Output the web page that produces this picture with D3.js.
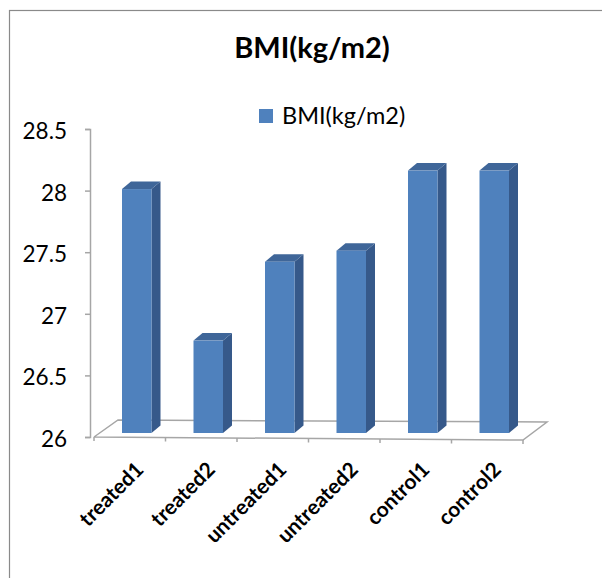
<!DOCTYPE html>
<html>
<head>
<meta charset="utf-8">
<script src="https://cdn.jsdelivr.net/npm/d3@7"></script>
<style>body{margin:0;background:#fff;}</style>
</head>
<body>
<script>
const width = 602;
const height = 578;

// chart data
const categories = ["treated1", "treated2", "untreated1", "untreated2", "control1", "control2"];
const bmiValues = [27.98, 26.75, 27.39, 27.48, 28.13, 28.13];
const yTicks = [26, 26.5, 27, 27.5, 28, 28.5];
const seriesName = "BMI(kg/m2)";
const titleText = "BMI(kg/m2)";

const font = "Lato, 'Open Sans', sans-serif";

const svg = d3.select("body").append("svg")
    .attr("width", width)
    .attr("height", height);

// chart area border
svg.append("rect")
    .attr("x", 9.5).attr("y", 10.5)
    .attr("width", 640).attr("height", 640)
    .attr("fill", "#fff")
    .attr("stroke", "#8a8a8a")
    .attr("stroke-width", 1.2);

const x = d3.scaleBand().domain(categories).range([94, 523]);
const y = d3.scaleLinear().domain([26, 28.5]).range([437, 129]);

const depth = [24, -17];   // floor depth (oblique)
const frontL = [x.range()[0], y(26)];
const frontR = [x.range()[1], y(26) + 3];
const backL = [frontL[0] + depth[0], frontL[1] + depth[1]];
const backR = [frontR[0] + depth[0], frontR[1] + depth[1] - 1];

// floor
svg.append("path")
    .attr("d", d3.line()([frontL, backL, backR, frontR, frontL]))
    .attr("fill", "none")
    .attr("stroke", "#a6a6a6")
    .attr("stroke-width", 1.5);

// category ticks
d3.range(categories.length + 1).forEach(i => {
    const tx = x.range()[0] + i * x.step();
    const ty = frontL[1] + (frontR[1] - frontL[1]) * i / categories.length;
    svg.append("line")
        .attr("x1", tx).attr("x2", tx)
        .attr("y1", ty).attr("y2", ty + 4)
        .attr("stroke", "#a6a6a6").attr("stroke-width", 1.5);
});

// y axis
const yAxis = svg.append("g").attr("transform", "translate(90,0)")
    .call(d3.axisLeft(y).tickValues(yTicks).tickSize(5).tickPadding(18)
        .tickFormat(d => d3.format("")(d)));
yAxis.select(".domain").attr("stroke", "#a6a6a6").attr("stroke-width", 1.5);
yAxis.selectAll(".tick line").attr("stroke", "#a6a6a6").attr("stroke-width", 1.5);
yAxis.selectAll(".tick text")
    .attr("font-family", font)
    .attr("font-size", 22.5)
    .attr("fill", "#000")
    .attr("dy", "0.42em");

// bars (3d look)
const barW = 29.5;
const off = [7, -4];
const bd = [9, -7.5];
const bars = svg.selectAll(".bar").data(categories.map((c, i) => ({c, v: bmiValues[i]})))
    .enter().append("g").attr("class", "bar");

bars.each(function(d) {
    const g = d3.select(this);
    const fx = x(d.c) + x.bandwidth() / 2 - barW / 2 + off[0];
    const top = y(d.v) + off[1];
    const bot = y(26) + off[1];
    g.append("path")
        .attr("d", d3.line()([[fx + barW, top], [fx + barW + bd[0], top + bd[1]],
            [fx + barW + bd[0], bot + bd[1]], [fx + barW, bot]]) + "Z")
        .attr("fill", "#36598a");
    g.append("path")
        .attr("d", d3.line()([[fx, top], [fx + bd[0], top + bd[1]],
            [fx + barW + bd[0], top + bd[1]], [fx + barW, top]]) + "Z")
        .attr("fill", "#3f6699");
    g.append("rect")
        .attr("x", fx).attr("y", top)
        .attr("width", barW).attr("height", bot - top)
        .attr("fill", "#4f81bd");
});

// category labels
svg.selectAll(".xlab").data(categories).enter().append("text")
    .attr("class", "xlab")
    .attr("transform", d => `translate(${x(d) + x.bandwidth() / 2 + 15},471) rotate(-45)`)
    .attr("text-anchor", "end")
    .attr("font-family", font)
    .attr("font-weight", "bold")
    .attr("font-size", 21)
    .text(d => d);

// title
svg.append("text")
    .attr("x", 312).attr("y", 58)
    .attr("text-anchor", "middle")
    .attr("font-family", font)
    .attr("font-weight", "bold")
    .attr("font-size", 29)
    .text(titleText);

// legend
svg.append("rect")
    .attr("x", 259).attr("y", 109)
    .attr("width", 14).attr("height", 14)
    .attr("fill", "#4f81bd");
svg.append("text")
    .attr("x", 282).attr("y", 124)
    .attr("font-family", font)
    .attr("font-size", 23.5)
    .text(seriesName);
</script>
</body>
</html>
